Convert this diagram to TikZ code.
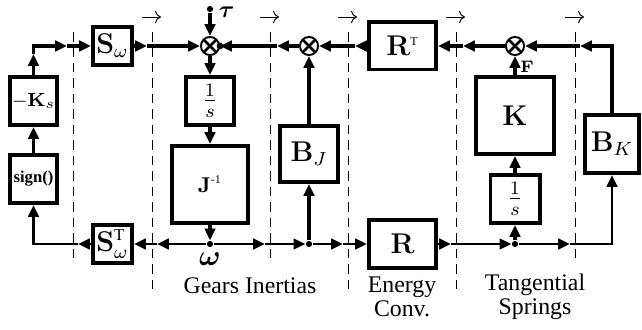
\documentclass[tikz,border=0pt]{standalone}
\usepackage[no-math]{fontspec}
\setmainfont{Liberation Serif}
\usepackage{bm}
\usetikzlibrary{arrows.meta}

\begin{document}
\begin{tikzpicture}[x=0.42pt, y=-0.42pt,
    block/.style={draw, line width=1.6pt, inner sep=0pt},
    bsize/.style 2 args={minimum width=#1*0.42pt-1.6pt, minimum height=#2*0.42pt-1.6pt},
    sum/.style={draw, circle, line width=0.8pt, minimum size=7.6pt, inner sep=0pt,
        path picture={\draw[line width=1.1pt] (path picture bounding box.north west) -- (path picture bounding box.south east)
            (path picture bounding box.south west) -- (path picture bounding box.north east);}},
    dot/.style={circle, fill, inner sep=0pt, minimum size=2.6pt},
    flow/.style={line width=1.6pt, -{Triangle[length=5pt, width=4.4pt]}},
    flowb/.style={flow, line width=1.2pt},
    border/.style={line width=0.4pt, dash pattern=on 4pt off 2.5pt},
    flowdir/.style={->, line width=0.4pt}]
    \useasboundingbox (0,0) rectangle (642,330);

    % section borders
    \foreach \xd/\yd in {73/258, 152/295, 270/258, 348/295, 456/295, 575/258}
        \draw[border] (\xd,32) -- (\xd,\yd);
    \foreach \xd in {152,270,348,456,575}
        \draw[flowdir] (\xd-10,17) -- (\xd+9,17);

    % blocks
    \node[block, bsize={51}{52}] (ks) at (33.5,101) {\footnotesize$-\mathbf{K}_s$};
    \node[block, bsize={51}{52}] (sgn) at (33.5,179) {\scriptsize\textbf{sign()}};
    \node[block, bsize={43}{42}] (sw) at (112.5,46) {\large$\mathbf{S}_\omega$};
    \node[block, bsize={43}{42}] (swt) at (112.5,244) {\large$\mathbf{S}_\omega^{\mbox{\scriptsize T}}$};
    \node[block, bsize={52}{52}] (int1) at (210,101) {\large$\frac{1}{s}$};
    \node[block, bsize={80}{81}] (jinv) at (210,184.5) {\small$\mathbf{J}^{\mbox{\tiny -1}}$};
    \node[block, bsize={62}{60}] (bj) at (309,154) {\large$\mathbf{B}_J$};
    \node[block, bsize={71}{51}] (rt) at (402.5,46) {\large$\mathbf{R}^{\mbox{\tiny T}}$};
    \node[block, bsize={71}{52}] (r) at (402.5,244) {\large$\mathbf{R}$};
    \node[block, bsize={82}{81}] (k) at (515,115.5) {\large$\mathbf{K}$};
    \node[block, bsize={53}{52}] (int2) at (515,199) {\large$\frac{1}{s}$};
    \node[block, bsize={58}{62}] (bk) at (612,144) {\large$\mathbf{B}_K$};

    % junctions
    \node[sum] (sumt) at (210,46) {};
    \node[sum] (sumj) at (309,46) {};
    \node[sum] (sumf) at (515,46) {};
    \node[dot] (taup) at (210,9) {};
    \node[dot] (w) at (210,244) {};
    \node[dot] (jb) at (309,244) {};
    \node[dot] (jk) at (515,244) {};
    \node[anchor=west, inner sep=1pt] (taulbl) at (216,12) {$\bm{\tau}$};
    \node[below, inner sep=2pt] (wlbl) at (w.south) {\large$\bm{\omega}$};
    \node[font=\scriptsize] (flbl) at (527,67) {$\mathbf{F}$};

    % arrow tips next to the borders
    \coordinate (ka) at (33.5,54);
    \coordinate (t1) at (67,46);
    \coordinate (t2) at (147,46);
    \coordinate (t3) at (277,46);
    \coordinate (t4) at (355,46);
    \coordinate (t5) at (463,46);
    \coordinate (t6) at (580,46);
    \coordinate (b1) at (78,244);
    \coordinate (b2) at (157,244);
    \coordinate (b3) at (265,244);
    \coordinate (b4) at (343,244);
    \coordinate (b5) at (451,244);
    \coordinate (b6) at (570,244);

    % upper path
    \draw[flow] (sgn) -- (ks);
    \draw[flow] (ks) -- (ka);
    \draw[flow] (ka) |- (t1);
    \draw[flow] (t1) -- (sw);
    \draw[flow] (sw) -- (t2);
    \draw[flow] (t2) -- (sumt);
    \draw[flow] (taup) -- (sumt);
    \draw[flow] (sumt) -- (int1);
    \draw[flow] (int1) -- (jinv);
    \draw[flow] (jinv) -- (w);
    \draw[flow] (bk) |- (t6);
    \draw[flow] (t6) -- (sumf);
    \draw[flow] (k) -- (sumf);
    \draw[flow] (sumf) -- (t5);
    \draw[flow] (t5) -- (rt);
    \draw[flow] (rt) -- (t4);
    \draw[flow] (t4) -- (sumj);
    \draw[flow] (bj) -- (sumj);
    \draw[flow] (sumj) -- (t3);
    \draw[flow] (t3) -- (sumt);
    \fill (sumt.east) circle (1.4pt);

    % lower path
    \draw[flowb] (w) -- (b2);
    \draw[flowb] (b2) -- (swt);
    \draw[flowb] (swt) -- (b1);
    \draw[flowb] (b1) -| (sgn);
    \draw[flowb] (w) -- (b3);
    \draw[flowb] (b3) -- (jb);
    \draw[flow] (jb) -- (bj);
    \draw[flowb] (jb) -- (b4);
    \draw[flowb] (b4) -- (r);
    \draw[flowb] (r) -- (b5);
    \draw[flowb] (b5) -- (jk);
    \draw[flow] (jk) -- (int2);
    \draw[flow] (int2) -- (k);
    \draw[flowb] (jk) -- (b6);
    \draw[flowb] (b6) -| (bk);

    % section names
    \node (gears) at (250,286) {Gears Inertias};
    \node[align=center, font=\fontsize{10}{10}\selectfont] (energy) at (402,297) {Energy\\Conv.};
    \node[align=center, font=\fontsize{10}{10}\selectfont] (springs) at (535,297) {Tangential\\Springs};
\end{tikzpicture}
\end{document}
